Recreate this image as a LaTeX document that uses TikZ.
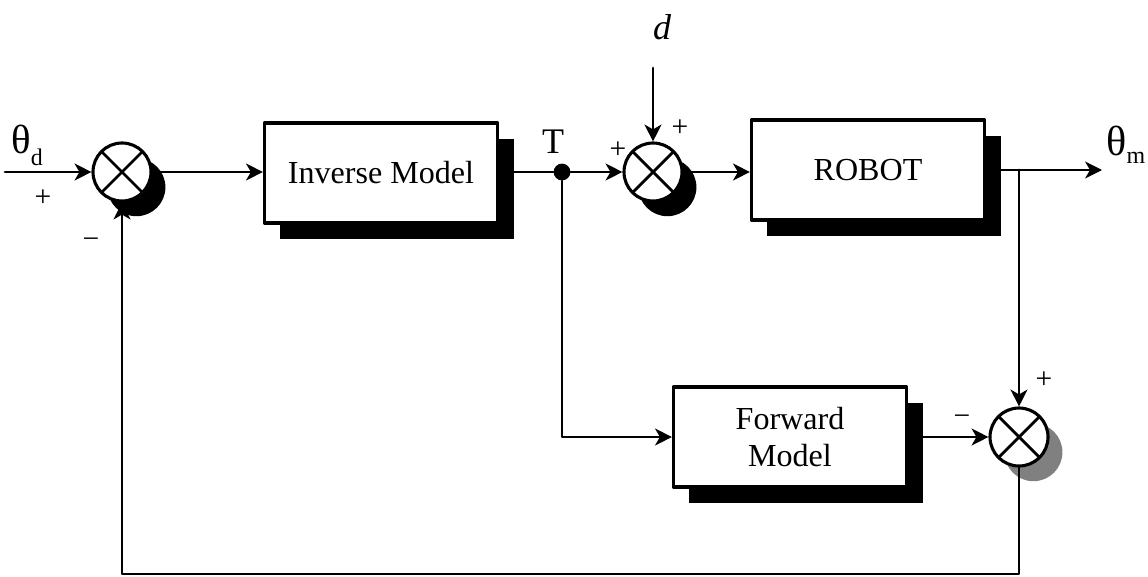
\documentclass[tikz,border=0pt]{standalone}
\usepackage{fontspec}
\setmainfont{Liberation Serif}
\usetikzlibrary{arrows.meta,shadows}
\definecolor{LoopInk}{HTML}{000000}
\definecolor{LoopShade}{HTML}{808080}

\begin{document}
\begin{tikzpicture}[x=0.025cm,y=-0.025cm,line cap=round,line join=round,
  sig/.style={-{Stealth[length=4.2mm,width=4.2mm,inset=1.2mm]},LoopInk,line width=2pt},
  wire/.style={LoopInk,line width=2pt},
  block/.style={draw=LoopInk,fill=white,line width=2.2pt,minimum width=5.825cm,minimum height=2.5cm,
    align=center,font=\fontsize{22.8}{26.3}\selectfont,
    drop shadow={shadow xshift=0.4cm,shadow yshift=-0.4cm,fill=LoopInk,opacity=1}},
  summer/.style={draw=LoopInk,circle,fill=white,line width=2.2pt,minimum size=1.45cm,inner sep=0pt,
    path picture={\draw[line width=2pt]
      (path picture bounding box.north west) -- (path picture bounding box.south east)
      (path picture bounding box.north east) -- (path picture bounding box.south west);},
    drop shadow={shadow xshift=0.36cm,shadow yshift=-0.38cm,fill=#1,opacity=1}},
  summer/.default=LoopInk,
  sign/.style={font=\fontsize{21}{23}\selectfont,inner sep=0pt},
  tag/.style={inner sep=0pt}]
  \useasboundingbox (0,0) rectangle (1148,577);
  \node[summer] (s1) at (122,172) {};
  \node[block] (inv) at (381,173) {Inverse Model};
  \node[fill=LoopInk,circle,minimum size=0.42cm,inner sep=0pt] (tap) at (562,172) {};
  \node[summer] (s2) at (653,172) {};
  \node[block] (rob) at (868,170) {ROBOT};
  \node[block] (fwd) at (790,437) {Forward\\Model};
  \node[summer=LoopShade] (s3) at (1019,437) {};
  \node[tag,anchor=base west] (thd) at (11,154)
    {\fontsize{29}{31}\selectfont θ\raisebox{-8.5pt}{\fontsize{17}{19}\selectfont d}};
  \node[tag,anchor=base west] (thm) at (1106,156)
    {\fontsize{30}{32}\selectfont θ\raisebox{-5pt}{\fontsize{17}{19}\selectfont m}};
  \node[tag,anchor=base] (dlab) at (662,40) {\fontsize{25.6}{28}\selectfont\itshape d};
  \node[tag,anchor=base] (tlab) at (553,154) {\fontsize{25.6}{28}\selectfont T};
  \node[sign] (p1) at (43,198) {+};
  \node[sign] (m1) at (91,243) {−};
  \node[sign] (p2) at (618,150) {+};
  \node[sign] (p3) at (680,128) {+};
  \node[sign] (p4) at (1044,380) {+};
  \node[sign] (m2) at (962,420) {−};
  \coordinate (src) at (5,172);
  \coordinate (dsrc) at (653,68);
  \coordinate (out) at (1102,170);
  \coordinate (pick) at (1019,170);
  \coordinate (ret) at (1019,574);
  \draw[sig] (src) -- (s1.west);
  \draw[sig] (s1.east) -- (s1.east -| inv.west);
  \draw[wire] (tap -| inv.east) -- (tap);
  \draw[sig] (tap) -- (s2.west);
  \draw[sig] (dsrc) -- (s2.north);
  \draw[sig] (s2.east) -- (s2.east -| rob.west);
  \draw[sig] (rob.east) -- (out);
  \draw[sig] (pick) -- (s3.north);
  \draw[sig] (tap) |- (fwd.west);
  \draw[sig] (fwd.east) -- (s3.west);
  \draw[sig] (s3.south) -- (ret) -| (s1.south);
\end{tikzpicture}
\end{document}
